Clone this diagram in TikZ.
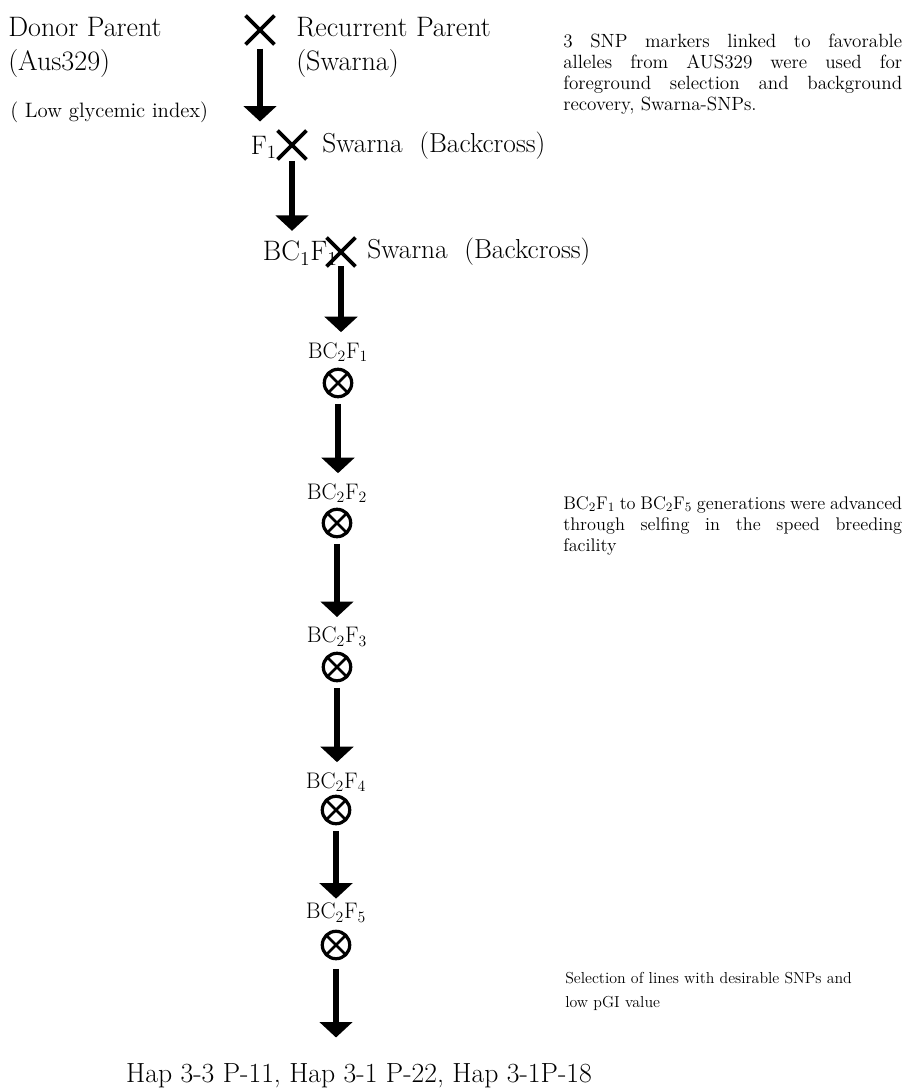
\documentclass[tikz,border=0pt]{standalone}
\usepackage{amsmath,amssymb}
\usepackage{tikz}
\usetikzlibrary{positioning,arrows.meta,shapes.misc}

\begin{document}
\begin{tikzpicture}[x=0.025cm,y=-0.025cm,
	big/.style={font=\fontsize{20}{24}\selectfont},
	gen/.style={font=\fontsize{16}{18}\selectfont},
	small/.style={font=\fontsize{14.8}{16}\selectfont},
	note/.style={font=\fontsize{13}{14.9}\selectfont, text width=241pt, align=justify, anchor=north west},
	crossmark/.style={draw, cross out, line width=2.6pt, minimum size=18pt},
	selfmark/.style={draw, circle, line width=2.3pt, minimum size=19.5pt,
		path picture={\draw[line width=1.8pt] (path picture bounding box.north west) -- (path picture bounding box.south east)
			(path picture bounding box.north east) -- (path picture bounding box.south west);}},
	flow/.style={line width=4.6pt, -{Triangle[width=23pt,length=11pt]}}]
	\tikzstyle{every node}+=[inner sep=0pt]
	\useasboundingbox (0,0) rectangle (909,1089);
	% parents
	\node [big, anchor=north west, align=left] (donor) at (8,17) {Donor Parent\\(Aus329)};
	\node [small, anchor=west] (gi) at (10,112) {( Low glycemic index)};
	\node [crossmark] (cross0) at (260,30) {};
	\node [big, anchor=north west, align=left] (recur) at (296,17) {Recurrent Parent\\(Swarna)};
	% backcrosses
	\node [crossmark] (cross1) at (292,145) {};
	\node [big, font=\fontsize{19}{20}\selectfont, anchor=east] (f1) at (277,147) {F\textsubscript{1}};
	\node [big, font=\fontsize{19.5}{20}\selectfont, anchor=west] (back1) at (322,146) {Swarna\ \ (Backcross)};
	\node [crossmark] (cross2) at (341,252) {};
	\node [big, anchor=east] (bc1f1) at (338,253) {BC\textsubscript{1}F\textsubscript{1}};
	\node [big, font=\fontsize{19.5}{20}\selectfont, anchor=west] (back2) at (367,252) {Swarna\ \ (Backcross)};
	% selfing generations
	\node [gen] (g1) at (338,352) {BC\textsubscript{2}F\textsubscript{1}};
	\node [selfmark] (s1) at (338,383) {};
	\node [gen] (g2) at (337,493) {BC\textsubscript{2}F\textsubscript{2}};
	\node [selfmark] (s2) at (337,523) {};
	\node [gen] (g3) at (337,637) {BC\textsubscript{2}F\textsubscript{3}};
	\node [selfmark] (s3) at (337,667) {};
	\node [gen] (g4) at (336,782) {BC\textsubscript{2}F\textsubscript{4}};
	\node [selfmark] (s4) at (336,810) {};
	\node [gen] (g5) at (336,913) {BC\textsubscript{2}F\textsubscript{5}};
	\node [selfmark] (s5) at (336,945) {};
	\node [font=\fontsize{19.7}{22}\selectfont, anchor=base] (lines) at (359,1082) {Hap 3-3 P-11, Hap 3-1 P-22, Hap 3-1P-18};
	% notes
	\node [note, font=\fontsize{13.6}{14.9}\selectfont] (snp) at (563,34) {3 SNP markers linked to favorable\linebreak alleles from AUS329 were used for\linebreak foreground selection and background\linebreak recovery, Swarna-SNPs.};
	\node [note] (speed) at (563,496) {BC\textsubscript{2}F\textsubscript{1} to BC\textsubscript{2}F\textsubscript{5} generations were advanced\linebreak through selfing in the speed breeding\linebreak facility};
	\node [font=\fontsize{11.3}{17}\selectfont, anchor=north west, align=left] (select) at (565,972) {Selection of lines with desirable SNPs and\\low pGI value};
	% arrows
	\draw [flow, shorten <=3pt, shorten >=10pt] (cross0.south) -- (cross0.south |- f1.north);
	\draw [flow, shorten <=1pt, shorten >=7pt] (cross1.south) -- (cross1.south |- bc1f1.north);
	\draw [flow, shorten >=7pt] (cross2.south) -- (cross2.south |- g1.north);
	\draw [flow, shorten <=4pt, shorten >=7pt] (s1.south) -- (s1.south |- g2.north);
	\draw [flow, shorten <=4pt, shorten >=7pt] (s2.south) -- (s2.south |- g3.north);
	\draw [flow, shorten <=4pt, shorten >=7pt] (s3.south) -- (s3.south |- g4.north);
	\draw [flow, shorten <=4pt, shorten >=3pt] (s4.south) -- (s4.south |- g5.north);
	\draw [flow, shorten <=6pt, shorten >=18pt] (s5.south) -- (s5.south |- lines.north);
\end{tikzpicture}
\end{document}
